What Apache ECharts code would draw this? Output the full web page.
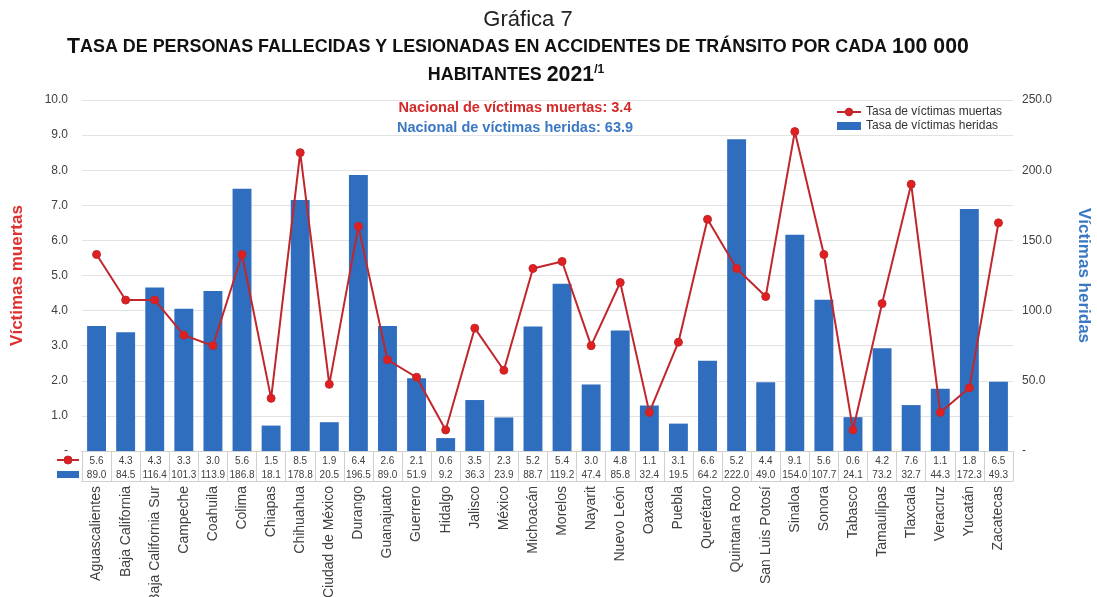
<!DOCTYPE html>
<html><head><meta charset="utf-8">
<script src="https://cdn.jsdelivr.net/npm/echarts@6/dist/echarts.min.js"></script>
<style>html,body{margin:0;padding:0;background:#fff}#c{width:1097px;height:597px}</style>
</head><body><div id="c"></div>
<script>
const categories = ['Aguascalientes','Baja California','Baja California Sur','Campeche','Coahuila','Colima','Chiapas','Chihuahua','Ciudad de México','Durango','Guanajuato','Guerrero','Hidalgo','Jalisco','México','Michoacán','Morelos','Nayarit','Nuevo León','Oaxaca','Puebla','Querétaro','Quintana Roo','San Luis Potosí','Sinaloa','Sonora','Tabasco','Tamaulipas','Tlaxcala','Veracruz','Yucatán','Zacatecas'];
const muertas = [5.6,4.3,4.3,3.3,3.0,5.6,1.5,8.5,1.9,6.4,2.6,2.1,0.6,3.5,2.3,5.2,5.4,3.0,4.8,1.1,3.1,6.6,5.2,4.4,9.1,5.6,0.6,4.2,7.6,1.1,1.8,6.5];
const heridas = [89.0,84.5,116.4,101.3,113.9,186.8,18.1,178.8,20.5,196.5,89.0,51.9,9.2,36.3,23.9,88.7,119.2,47.4,85.8,32.4,19.5,64.2,222.0,49.0,154.0,107.7,24.1,73.2,32.7,44.3,172.3,49.3];
const nacionalMuertas = 3.4;
const nacionalHeridas = 63.9;

const RED = '#c0272d', BLUE = '#2f6ebf', GRID = '#e3e3e3', TXT = '#404040', CELL = '#d0d0d0';
const FF = 'Liberation Sans, Arial, sans-serif';
const chart = echarts.init(document.getElementById('c'));
const idx = {}; categories.forEach((c,i)=>idx[c]=i);
chart.setOption({
  animation:false,
  textStyle:{fontFamily:FF},
  grid:{left:82,right:84,top:100,bottom:146,outerBoundsMode:'none',containLabel:false},
  legend:{
    orient:'vertical', left:831, top:101, itemGap:2, itemWidth:24, itemHeight:8,
    textStyle:{fontSize:12,color:'#333'},
    data:[{name:'Tasa de víctimas muertas'},{name:'Tasa de víctimas heridas',icon:'rect'}]
  },
  xAxis:[
    {type:'category',data:categories,position:'bottom',offset:0,
     axisLine:{show:true,lineStyle:{color:CELL}},
     axisTick:{show:true,length:30,lineStyle:{color:CELL}},
     axisLabel:{margin:5,fontSize:10,color:TXT,interval:0,formatter:v=>muertas[idx[v]].toFixed(1)}},
    {type:'category',data:categories,position:'bottom',offset:16,
     axisLine:{show:true,lineStyle:{color:CELL}},axisTick:{show:false},
     axisLabel:{margin:3,fontSize:10,color:TXT,interval:0,formatter:v=>heridas[idx[v]].toFixed(1)}},
    {type:'category',data:categories,position:'bottom',offset:30,
     axisLine:{show:true,lineStyle:{color:CELL}},axisTick:{show:false},
     axisLabel:{margin:5,fontSize:14,color:TXT,interval:0,rotate:90}}
  ],
  yAxis:[
    {type:'value',min:0,max:10,interval:1,position:'left',
     name:'Víctimas muertas',nameLocation:'middle',nameGap:56,nameRotate:90,
     nameTextStyle:{color:'#e03030',fontSize:17,fontWeight:'bold'},
     axisLine:{show:false},axisTick:{show:false},
     splitLine:{lineStyle:{color:GRID}},
     axisLabel:{margin:14,fontSize:12,color:TXT,formatter:v=>v===0?'-':v.toFixed(1)}},
    {type:'value',min:0,max:250,interval:50,position:'right',
     name:'Víctimas heridas',nameLocation:'middle',nameGap:62,nameRotate:-90,
     nameTextStyle:{color:'#3a78c4',fontSize:17,fontWeight:'bold'},
     axisLine:{show:false},axisTick:{show:false},splitLine:{show:false},
     axisLabel:{margin:9,fontSize:12,color:TXT,formatter:v=>v===0?'-':v.toFixed(1)}}
  ],
  series:[
    {name:'Tasa de víctimas heridas',type:'bar',yAxisIndex:1,xAxisIndex:0,data:heridas,barWidth:'65%',
     itemStyle:{color:BLUE}},
    {name:'Tasa de víctimas muertas',type:'line',yAxisIndex:0,xAxisIndex:0,data:muertas,
     symbol:'circle',symbolSize:8,lineStyle:{color:RED,width:2},
     itemStyle:{color:'#e02020',borderColor:RED,borderWidth:1},z:5}
  ],
  graphic:[
    {type:'text',style:{text:'Gráfica 7',x:528,y:20,align:'center',verticalAlign:'middle',fontSize:22,fill:'#222',fontFamily:FF}},
    {type:'text',style:{x:518,y:47,align:'center',verticalAlign:'middle',fill:'#111',
      text:'{b|T}{s|ASA DE PERSONAS FALLECIDAS Y LESIONADAS EN ACCIDENTES DE TRÁNSITO POR CADA }{b|100 000}',
      rich:{b:{fontSize:21.3,fontWeight:'bold',fontFamily:FF},s:{fontSize:17.9,fontWeight:'bold',fontFamily:FF}}}},
    {type:'text',style:{x:516,y:75,align:'center',verticalAlign:'middle',fill:'#111',
      text:'{s|HABITANTES }{b|2021}{sup|/1}',
      rich:{b:{fontSize:21.3,fontWeight:'bold',fontFamily:FF},s:{fontSize:17.9,fontWeight:'bold',fontFamily:FF},sup:{fontSize:12,fontWeight:'bold',verticalAlign:'top',padding:[0,0,10,0],fontFamily:FF}}}},
    {type:'text',style:{x:515,y:108,align:'center',verticalAlign:'middle',fontSize:14.5,fontWeight:'bold',fill:'#d42a2a',fontFamily:FF,
      text:'Nacional de víctimas muertas: '+nacionalMuertas.toFixed(1)}},
    {type:'text',style:{x:515,y:128,align:'center',verticalAlign:'middle',fontSize:14.5,fontWeight:'bold',fill:'#3a78c4',fontFamily:FF,
      text:'Nacional de víctimas heridas: '+nacionalHeridas.toFixed(1)}},
    {type:'line',shape:{x1:57,y1:460,x2:79,y2:460},style:{stroke:RED,lineWidth:2}},
    {type:'circle',shape:{cx:68,cy:460,r:4},style:{fill:'#e02020',stroke:RED}},
    {type:'rect',shape:{x:57,y:471,width:22,height:7},style:{fill:BLUE}}
  ]
});
</script></body></html>
